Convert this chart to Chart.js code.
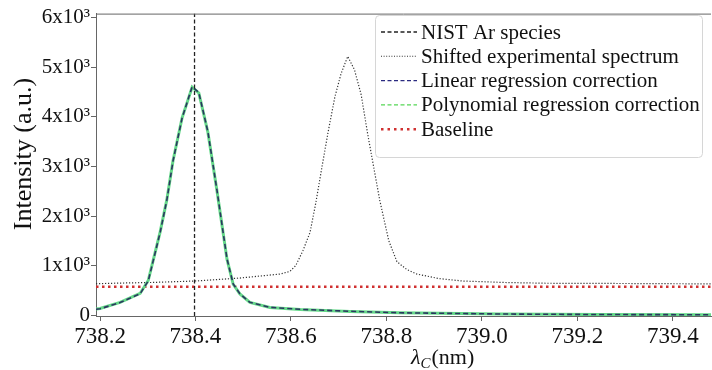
<!DOCTYPE html>
<html lang="en">
<head>
  <meta charset="UTF-8">
  <title>Ar line correction</title>
  <script src="https://cdn.jsdelivr.net/npm/chart.js"></script>
  <style>
    html, body {
      margin: 0;
      padding: 0;
      background: #fff;
    }
    #wrap {
      width: 712px;
      height: 370px;
    }
  </style>
</head>
<body>
  <div id="wrap"><canvas id="chart"></canvas></div>

  <script>
    // wavelength axis (nm) and tick labels
    const xTicks = [738.2, 738.4, 738.6, 738.8, 739.0, 739.2, 739.4];
    const yTicks = [0, 1000, 2000, 3000, 4000, 5000, 6000];
    const yTickLabels = ['0', '1x10³', '2x10³', '3x10³', '4x10³', '5x10³', '6x10³'];

    // NIST Ar I line
    const nistX = 738.398;

    // shifted experimental spectrum
    const shiftedX = [738.1916, 738.25, 738.305, 738.399, 738.493, 738.577, 738.598, 738.610, 738.625,
      738.640, 738.652, 738.665, 738.678, 738.692, 738.705, 738.719, 738.733, 738.747, 738.761, 738.786,
      738.805, 738.822, 738.843, 738.864, 738.91, 738.96, 739.05, 739.136, 739.30, 739.48];
    const shiftedY = [636, 650, 660, 690, 750, 830, 885, 1000, 1300,
      1670, 2260, 2990, 3700, 4400, 4870, 5217, 4950, 4450, 3640, 2320,
      1500, 1080, 920, 830, 740, 690, 660, 645, 640, 632];

    // corrected spectra
    const corrX = [738.1916, 738.20, 738.242, 738.284, 738.301, 738.311, 738.326, 738.340, 738.353,
      738.372, 738.393, 738.407, 738.426, 738.445, 738.466, 738.479, 738.493, 738.514, 738.556,
      738.619, 738.724, 738.828, 739.038, 739.247, 739.48];
    const linearY = [120, 130, 256, 433, 690, 1080, 1670, 2320, 3110,
      3976, 4606, 4488, 3700, 2520, 1140, 630, 433, 260, 160,
      120, 80, 50, 25, 15, 10];
    const polyY = [125, 135, 260, 440, 700, 1090, 1680, 2330, 3120,
      3980, 4600, 4480, 3690, 2510, 1130, 625, 430, 258, 158,
      118, 78, 48, 24, 14, 10];

    // baseline
    const baselineX = [738.1916, 739.48];
    const baselineY = [575, 575];

    const legendItems = [
      { text: 'NIST Ar species', color: '#222', width: 1.3, dash: [4, 2.5] },
      { text: 'Shifted experimental spectrum', color: '#333', width: 1.1, dash: [1, 1.6] },
      { text: 'Linear regression correction', color: '#2a2a80', width: 1.4, dash: [4, 2.5] },
      { text: 'Polynomial regression correction', color: '#55d655', width: 1.4, dash: [4, 2.5] },
      { text: 'Baseline', color: '#d03030', width: 2.5, dash: [2.5, 4] }
    ];

    const serif = '"Liberation Serif", "DejaVu Serif", serif';
    const pts = (xs, ys) => xs.map((x, i) => ({ x: x, y: ys[i] }));

    const extras = {
      id: 'extras',
      afterDraw(chart) {
        const ctx = chart.ctx;
        const a = chart.chartArea;
        ctx.save();
        // top frame line
        ctx.strokeStyle = '#666';
        ctx.lineWidth = 1;
        ctx.beginPath();
        ctx.moveTo(a.left, a.top + 0.5);
        ctx.lineTo(a.right, a.top + 0.5);
        ctx.stroke();

        // y title
        ctx.fillStyle = '#111';
        ctx.translate(24, 154);
        ctx.rotate(-Math.PI / 2);
        ctx.font = '26px ' + serif;
        ctx.textAlign = 'center';
        ctx.textBaseline = 'middle';
        ctx.fillText('Intensity (a.u.)', 0, 0);
        ctx.setTransform(1, 0, 0, 1, 0, 0);

        // x title: lambda with subscript C
        ctx.textAlign = 'left';
        ctx.textBaseline = 'alphabetic';
        let x = 411, y = 364;
        ctx.font = 'italic 22px ' + serif;
        ctx.fillText('λ', x, y);
        x += ctx.measureText('λ').width;
        ctx.font = 'italic 15px ' + serif;
        ctx.fillText('C', x, y + 4);
        x += ctx.measureText('C').width + 1;
        ctx.font = '22px ' + serif;
        ctx.fillText('(nm)', x, y);

        // legend box
        const bx = 375, by = 15, bw = 327, bh = 142;
        ctx.fillStyle = 'rgba(255,255,255,0.85)';
        ctx.strokeStyle = '#d6d6d6';
        ctx.lineWidth = 1;
        ctx.beginPath();
        ctx.roundRect(bx + 0.5, by + 0.5, bw, bh, 4);
        ctx.fill();
        ctx.stroke();

        ctx.font = '21px ' + serif;
        ctx.textBaseline = 'middle';
        legendItems.forEach((it, i) => {
          const ry = 33 + i * 24.3;
          ctx.strokeStyle = it.color;
          ctx.lineWidth = it.width;
          ctx.setLineDash(it.dash);
          ctx.beginPath();
          ctx.moveTo(381, ry - 1);
          ctx.lineTo(417, ry - 1);
          ctx.stroke();
          ctx.setLineDash([]);
          ctx.fillStyle = '#111';
          ctx.fillText(it.text, 421, ry);
        });
        ctx.restore();
      }
    };

    new Chart(document.getElementById('chart'), {
      type: 'line',
      data: {
        datasets: [
          {
            label: 'NIST Ar species',
            data: [{ x: nistX, y: -15 }, { x: nistX, y: 6080 }],
            borderColor: '#222',
            borderWidth: 1.3,
            borderDash: [4, 2.5]
          },
          {
            label: 'Linear regression correction',
            data: pts(corrX, linearY),
            borderColor: '#2b3560',
            borderWidth: 1.6,
            borderDash: [5, 3]
          },
          {
            label: 'Polynomial regression correction',
            data: pts(corrX, polyY),
            borderColor: '#66d98a',
            borderWidth: 3
          },
          {
            label: 'Shifted experimental spectrum',
            data: pts(shiftedX, shiftedY),
            borderColor: '#333',
            borderWidth: 1.2,
            borderDash: [1.2, 1.8]
          },
          {
            label: 'Baseline',
            data: pts(baselineX, baselineY),
            borderColor: '#d03030',
            borderWidth: 2.5,
            borderDash: [2.5, 3.5]
          }
        ]
      },
      options: {
        responsive: true,
        maintainAspectRatio: false,
        animation: false,
        layout: { padding: { top: 6, right: 1, left: 0, bottom: 0 } },
        elements: {
          point: { radius: 0 },
          line: { tension: 0, fill: false }
        },
        plugins: {
          legend: { display: false },
          tooltip: { enabled: false }
        },
        scales: {
          x: {
            type: 'linear',
            min: 738.1916,
            max: 739.48,
            afterFit: s => { s.height = 54; },
            afterBuildTicks: s => { s.ticks = xTicks.map(v => ({ value: v })); },
            grid: { drawOnChartArea: false, drawTicks: true, tickLength: 5, color: '#666' },
            border: { display: true, color: '#666', width: 1 },
            ticks: {
              padding: 2,
              color: '#111',
              font: { family: serif, size: 23 },
              callback: v => Number(v).toFixed(1)
            }
          },
          y: {
            min: -15,
            max: 6080,
            afterFit: s => { s.width = 96; },
            afterBuildTicks: s => { s.ticks = yTicks.map(v => ({ value: v })); },
            grid: { drawOnChartArea: false, drawTicks: true, tickLength: 5, color: '#666' },
            border: { display: true, color: '#666', width: 1 },
            ticks: {
              padding: 1,
              color: '#111',
              font: { family: serif, size: 21 },
              callback: v => yTickLabels[yTicks.indexOf(v)]
            }
          }
        }
      },
      plugins: [extras]
    });
  </script>
</body>
</html>
